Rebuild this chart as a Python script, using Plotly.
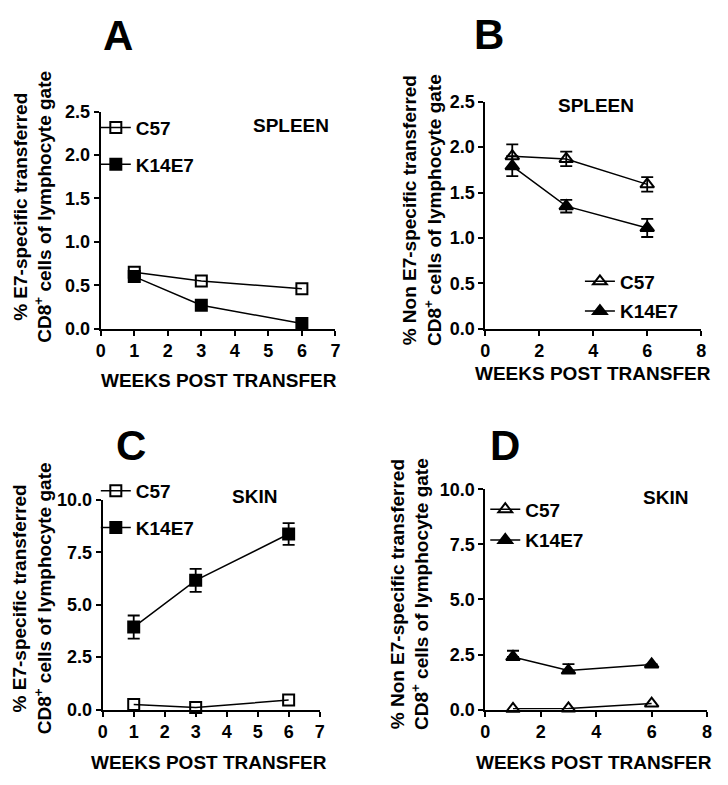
import plotly.graph_objects as go

# ---------------- data ----------------
weeks = [1, 3, 6]

A_c57 = [0.65, 0.55, 0.46]
A_k14 = [0.60, 0.27, 0.06]

B_c57 = [1.90, 1.87, 1.59]
B_c57_err = [0.13, 0.08, 0.08]
B_k14 = [1.79, 1.35, 1.11]
B_k14_err = [0.11, 0.07, 0.10]

C_c57 = [0.24, 0.10, 0.45]
C_k14 = [3.94, 6.17, 8.38]
C_k14_err = [0.55, 0.55, 0.52]

D_c57 = [0.03, 0.05, 0.27]
D_k14 = [2.39, 1.77, 2.05]
D_k14_err = [0.28, 0.29, 0.0]

panel_letters = ["A", "B", "C", "D"]
tissue_labels = ["SPLEEN", "SPLEEN", "SKIN", "SKIN"]
series_names = ["C57", "K14E7"]
x_title = "WEEKS POST TRANSFER"
y_title_e7 = "% E7-specific transferred<br>CD8<sup>+</sup> cells of lymphocyte gate"
y_title_non = "% Non E7-specific transferred<br>CD8<sup>+</sup> cells of lymphocyte gate"

# the page body has an 8px margin; the figure fills the rest of the window
OFF = 8
W, H = 728 - 2 * OFF, 785 - 2 * OFF
FONT = "Liberation Sans, Arial, Helvetica, sans-serif"


def px(x):
    return (x - OFF) / W


def py(y):
    return 1 - (y - OFF) / H


fig = go.Figure()

TICK = dict(family=FONT, size=18, color="black", weight="bold")
TXT = dict(family=FONT, size=19, color="black", weight="bold")


def add_series(xa, ya, y, err, symbol, size, legend, group, name, minus=None):
    ey = None
    if err is not None:
        ey = dict(type="data", array=err, visible=True, color="black",
                  thickness=1.8, width=6)
        if minus is not None:
            ey.update(symmetric=False, arrayminus=minus)
    fig.add_trace(go.Scatter(
        x=weeks, y=y, xaxis=xa, yaxis=ya, name=name,
        mode="lines+markers", legend=legend, legendgroup=group,
        line=dict(color="black", width=1.5),
        marker=dict(symbol=symbol, size=size, color="black",
                    line=dict(color="black", width=2)),
        error_y=ey, cliponaxis=False,
    ))


# Panel A
add_series("x", "y", A_c57, None, "square-open", 11, "legend", "a1", series_names[0])
add_series("x", "y", A_k14, None, "square", 11, "legend", "a2", series_names[1])
# Panel B
add_series("x2", "y2", B_c57, B_c57_err, "triangle-up-open", 12, "legend2", "b1", series_names[0])
add_series("x2", "y2", B_k14, B_k14_err, "triangle-up", 12, "legend2", "b2", series_names[1])
# Panel C
add_series("x3", "y3", C_c57, None, "square-open", 11, "legend3", "c1", series_names[0])
add_series("x3", "y3", C_k14, C_k14_err, "square", 11, "legend3", "c2", series_names[1])
# Panel D
add_series("x4", "y4", D_c57, None, "triangle-up-open", 12, "legend4", "d1", series_names[0])
add_series("x4", "y4", D_k14, D_k14_err, "triangle-up", 12, "legend4", "d2", series_names[1],
           minus=[0, 0, 0])


def xaxis(domain, rng, dtick, anchor):
    return dict(domain=domain, range=rng, dtick=dtick, tick0=0, anchor=anchor,
                showline=True, linecolor="black", linewidth=2,
                ticks="outside", ticklen=5, tickwidth=2, tickcolor="black",
                showgrid=False, zeroline=False, tickfont=TICK, fixedrange=True)


def yaxis(domain, rng, dtick, anchor):
    return dict(domain=domain, range=rng, dtick=dtick, tick0=0, anchor=anchor,
                showline=True, linecolor="black", linewidth=2,
                ticks="outside", ticklen=5, tickwidth=2, tickcolor="black",
                tickformat=".1f", showgrid=False, zeroline=False,
                tickfont=TICK, fixedrange=True)


fig.update_layout(
    width=W, height=H,
    margin=dict(l=0, r=0, t=0, b=0),
    paper_bgcolor="white", plot_bgcolor="white",
    font=TXT,
    xaxis=xaxis([px(97), px(335)], [0, 7], 1, "y"),
    yaxis=yaxis([py(327), py(104)], [0, 2.5], 0.5, "x"),
    xaxis2=xaxis([px(487), px(706)], [0, 8], 2, "y2"),
    yaxis2=yaxis([py(327), py(94)], [0, 2.5], 0.5, "x2"),
    xaxis3=xaxis([px(99), px(319)], [0, 7], 1, "y3"),
    yaxis3=yaxis([py(718), py(503)], [0, 10], 2.5, "x3"),
    xaxis4=xaxis([px(487), px(712)], [0, 8], 2, "y4"),
    yaxis4=yaxis([py(718), py(492)], [0, 10], 2.5, "x4"),
    legend=dict(x=px(92), y=py(101), xanchor="left", yanchor="top",
                bgcolor="rgba(0,0,0,0)", font=TXT, tracegroupgap=9),
    legend2=dict(x=px(583), y=py(259), xanchor="left", yanchor="top",
                 bgcolor="rgba(0,0,0,0)", font=TXT, tracegroupgap=2),
    legend3=dict(x=px(92), y=py(474), xanchor="left", yanchor="top",
                 bgcolor="rgba(0,0,0,0)", font=TXT, tracegroupgap=9),
    legend4=dict(x=px(487), y=py(493), xanchor="left", yanchor="top",
                 bgcolor="rgba(0,0,0,0)", font=TXT, tracegroupgap=3),
)

ann = []
# panel letters
for txt, (cx, cy) in zip(panel_letters, [(114, 26), (491, 25), (128, 447), (507, 447)]):
    ann.append(dict(text=txt, x=px(cx), y=py(cy), xref="paper", yref="paper",
                    showarrow=False, xanchor="center", yanchor="middle",
                    font=dict(family=FONT, size=42, color="black", weight="bold")))
# tissue labels
for txt, (cx, cy) in zip(tissue_labels, [(290, 118), (599, 98), (253, 499), (670, 500)]):
    ann.append(dict(text=txt, x=px(cx), y=py(cy), xref="paper", yref="paper",
                    showarrow=False, xanchor="center", yanchor="middle", font=TXT))
# x titles
for (cx, cy) in [(217, 380), (596, 373), (207, 772), (597, 772)]:
    ann.append(dict(text=x_title, x=px(cx), y=py(cy), xref="paper", yref="paper",
                    showarrow=False, xanchor="center", yanchor="middle", font=TXT))
# y titles
for txt, (cx, cy) in zip([y_title_e7, y_title_non, y_title_e7, y_title_non],
                         [(28, 202), (423, 205), (28, 604), (410, 599)]):
    ann.append(dict(text=txt, x=px(cx), y=py(cy), xref="paper", yref="paper",
                    showarrow=False, xanchor="center", yanchor="middle",
                    textangle=-90, font=TXT))
fig.update_layout(annotations=ann)

fig.write_html("out.html")
